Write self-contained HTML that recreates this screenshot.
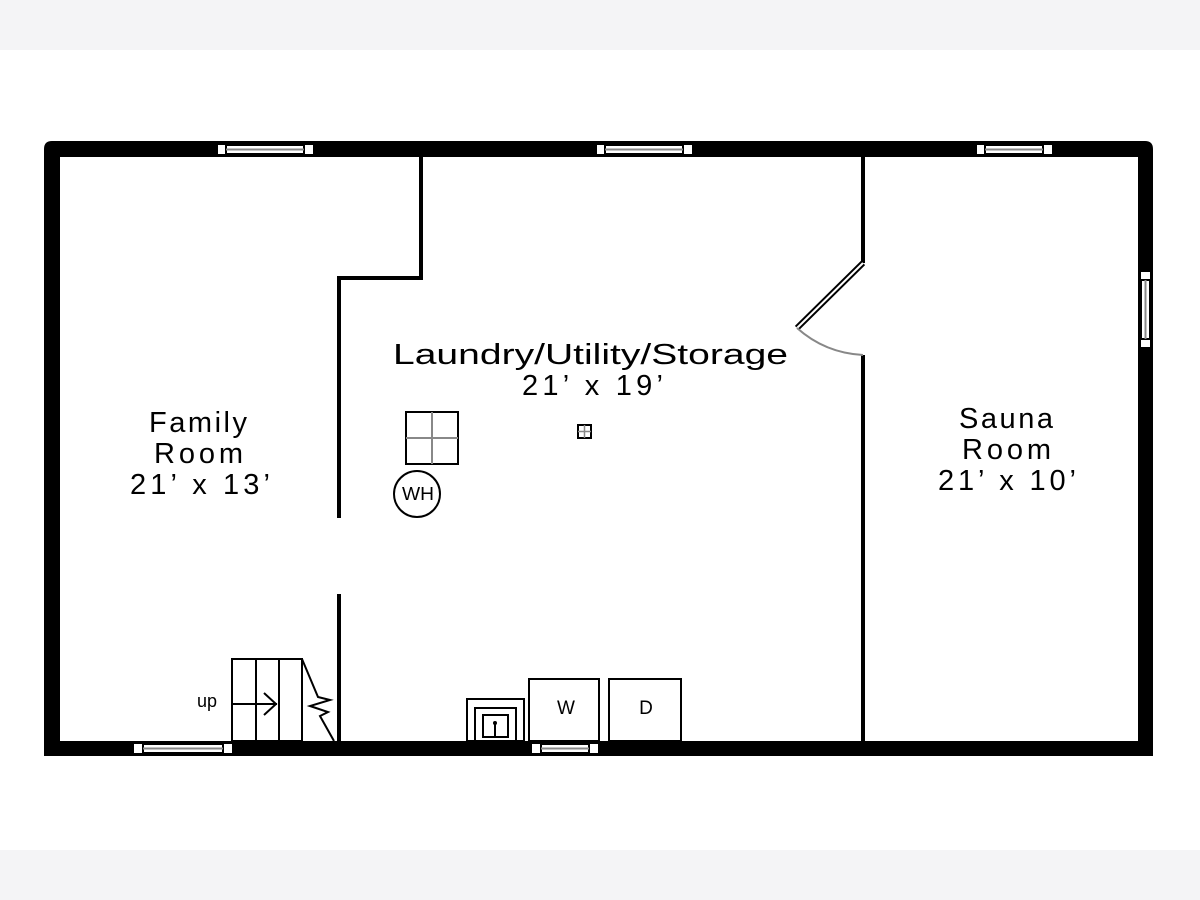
<!DOCTYPE html>
<html><head><style>
html,body{margin:0;padding:0;background:#fff;}
svg{display:block;}
text{font-family:"Liberation Sans","DejaVu Sans",sans-serif;fill:#000;}
</style></head><body>
<svg width="1200" height="900" viewBox="0 0 1200 900" xmlns="http://www.w3.org/2000/svg">
<rect x="0" y="0" width="1200" height="50" fill="#f4f4f6"/>
<rect x="0" y="850" width="1200" height="50" fill="#f4f4f6"/>
<path fill-rule="evenodd" fill="#000" d="M52,141 H1145 Q1153,141 1153,149 V756 H44 V149 Q44,141 52,141 Z M60,157 V741 H1138 V157 Z"/>
<g>
 <rect x="218" y="145" width="95" height="9" fill="#fff"/>
 <rect x="226" y="145" width="78" height="9" fill="#fff" stroke="#000" stroke-width="2"/>
 <line x1="226" y1="149.5" x2="304" y2="149.5" stroke="#888" stroke-width="2"/>
 <rect x="597" y="145" width="95" height="9" fill="#fff"/>
 <rect x="605" y="145" width="78" height="9" fill="#fff" stroke="#000" stroke-width="2"/>
 <line x1="605" y1="149.5" x2="683" y2="149.5" stroke="#888" stroke-width="2"/>
 <rect x="977" y="145" width="75" height="9" fill="#fff"/>
 <rect x="985" y="145" width="58" height="9" fill="#fff" stroke="#000" stroke-width="2"/>
 <line x1="985" y1="149.5" x2="1043" y2="149.5" stroke="#888" stroke-width="2"/>
 <rect x="1141" y="272" width="9" height="75" fill="#fff"/>
 <rect x="1141" y="280" width="9" height="59" fill="#fff" stroke="#000" stroke-width="2"/>
 <line x1="1145.5" y1="280" x2="1145.5" y2="339" stroke="#888" stroke-width="2"/>
 <rect x="134" y="744" width="98" height="9" fill="#fff"/>
 <rect x="143" y="744" width="80" height="9" fill="#fff" stroke="#000" stroke-width="2"/>
 <line x1="143" y1="748.5" x2="223" y2="748.5" stroke="#888" stroke-width="2"/>
 <rect x="532" y="744" width="66" height="9" fill="#fff"/>
 <rect x="541" y="744" width="48" height="9" fill="#fff" stroke="#000" stroke-width="2"/>
 <line x1="541" y1="748.5" x2="589" y2="748.5" stroke="#888" stroke-width="2"/>
</g>
<g stroke="#000" stroke-width="4" fill="none">
 <polyline points="421,157 421,278 339,278 339,518"/>
 <line x1="339" y1="594" x2="339" y2="741"/>
 <line x1="863" y1="157" x2="863" y2="263"/>
 <line x1="863" y1="355" x2="863" y2="741"/>
</g>
<line x1="863" y1="263" x2="797" y2="328" stroke="#000" stroke-width="6"/>
<line x1="863" y1="263" x2="797" y2="328" stroke="#fff" stroke-width="2"/>
<path d="M797,328 Q825,353 863,355" stroke="#888" stroke-width="2" fill="none"/>
<g stroke="#000" stroke-width="2" fill="none">
 <rect x="232" y="659" width="70" height="82"/>
 <line x1="256" y1="659" x2="256" y2="741"/>
 <line x1="279" y1="659" x2="279" y2="741"/>
 <line x1="232" y1="704" x2="277" y2="704"/>
 <polyline points="264,693 276,704 264,715"/>
 <polyline points="302,659 318,697 330,700 310,706 328,712 320,716 334,741"/>
</g>
<text x="197" y="707" font-size="18">up</text>
<g stroke="#000" stroke-width="2" fill="none">
 <rect x="467" y="699" width="57" height="42"/>
 <rect x="475" y="708" width="41" height="33"/>
 <rect x="483" y="715" width="25" height="22"/>
 <line x1="495" y1="723" x2="495" y2="737"/>
</g>
<circle cx="495" cy="723" r="2" fill="#000"/>
<rect x="529" y="679" width="70" height="62" fill="none" stroke="#000" stroke-width="2"/>
<rect x="609" y="679" width="72" height="62" fill="none" stroke="#000" stroke-width="2"/>
<text x="566" y="714" font-size="19" text-anchor="middle">W</text>
<text x="646" y="714" font-size="19" text-anchor="middle">D</text>
<rect x="406" y="412" width="52" height="52" fill="none" stroke="#000" stroke-width="2"/>
<line x1="432" y1="412" x2="432" y2="464" stroke="#888" stroke-width="2"/>
<line x1="406" y1="438" x2="458" y2="438" stroke="#888" stroke-width="2"/>
<circle cx="417" cy="494" r="23" fill="none" stroke="#000" stroke-width="2"/>
<text x="418" y="495" font-size="18" text-anchor="middle" textLength="32" lengthAdjust="spacingAndGlyphs" dominant-baseline="middle">WH</text>
<rect x="578" y="425" width="13" height="13" fill="none" stroke="#000" stroke-width="2"/>
<line x1="584.5" y1="425" x2="584.5" y2="438" stroke="#888" stroke-width="1.5"/>
<line x1="578" y1="431.5" x2="591" y2="431.5" stroke="#888" stroke-width="1.5"/>
<g font-size="29">
 <text x="393" y="364" textLength="395" lengthAdjust="spacingAndGlyphs">Laundry/Utility/Storage</text>
 <text x="522" y="395" textLength="141" lengthAdjust="spacing">21’ x 19’</text>
 <text x="149" y="432" textLength="98" lengthAdjust="spacing">Family</text>
 <text x="154" y="463" textLength="89" lengthAdjust="spacing">Room</text>
 <text x="130" y="494" textLength="140" lengthAdjust="spacing">21’ x 13’</text>
 <text x="959" y="428" textLength="94" lengthAdjust="spacing">Sauna</text>
 <text x="962" y="459" textLength="89" lengthAdjust="spacing">Room</text>
 <text x="938" y="490" textLength="138" lengthAdjust="spacing">21’ x 10’</text>
</g>
</svg>
</body></html>
